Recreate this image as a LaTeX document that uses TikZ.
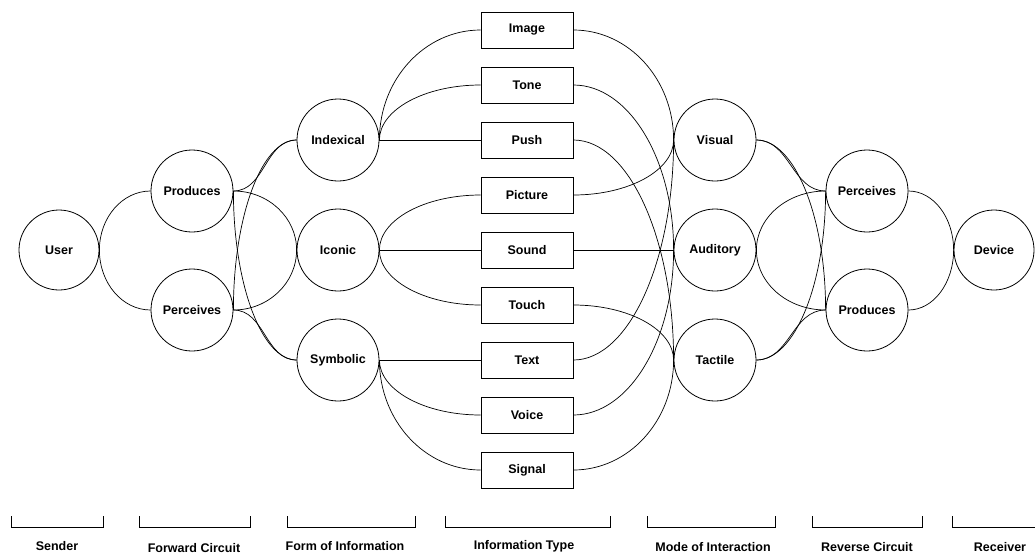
\documentclass[tikz,border=0pt]{standalone}
\usepackage{fontspec}
\setmainfont{Liberation Sans}
\usetikzlibrary{calc}
\tikzset{
  lbl/.style={font=\bfseries\fontsize{12.5}{15}\selectfont},
  circ/.style={lbl, circle, draw, line width=0.8pt, minimum size=82pt, inner sep=0pt},
  endcirc/.style={circ, minimum size=80pt},
  tbox/.style={lbl, rectangle, draw, line width=0.8pt, minimum width=92pt, minimum height=36pt, inner sep=0pt},
  conn/.style={line width=0.7pt},
  brk/.style={line width=0.7pt},
  qhv/.style={to path={.. controls ($(\tikztostart)!0.552!(\tikztostart -| \tikztotarget)$) and ($(\tikztotarget)!0.552!(\tikztostart -| \tikztotarget)$) .. (\tikztotarget)}},
  qvh/.style={to path={.. controls ($(\tikztostart)!0.552!(\tikztostart |- \tikztotarget)$) and ($(\tikztotarget)!0.552!(\tikztostart |- \tikztotarget)$) .. (\tikztotarget)}},
  scurve/.style={out=0, in=180}
}
\begin{document}
\begin{tikzpicture}[x=1pt, y=-1pt]
\useasboundingbox[fill=white] (0,0) rectangle (1035,555);
% nodes
\node[endcirc] (user) at (59,250) {User};
\node[circ] (prodL) at (192,191) {Produces};
\node[circ] (percL) at (192,310) {Perceives};
\node[circ] (indexical) at (338,140) {Indexical};
\node[circ] (iconic) at (338,250) {Iconic};
\node[circ] (symbolic) at (338,360) {Symbolic};
\node[tbox] (image) at (527,30) {Image};
\node[tbox] (tone) at (527,85) {Tone};
\node[tbox] (push) at (527,140) {Push};
\node[tbox] (picture) at (527,195) {Picture};
\node[tbox] (sound) at (527,250) {Sound};
\node[tbox] (touch) at (527,305) {Touch};
\node[tbox] (text) at (527,360) {Text};
\node[tbox] (voice) at (527,415) {Voice};
\node[tbox] (signal) at (527,470) {Signal};
\node[circ] (visual) at (715,140) {Visual};
\node[circ] (auditory) at (715,250) {Auditory};
\node[circ] (tactile) at (715,360) {Tactile};
\node[circ] (percR) at (867,191) {Perceives};
\node[circ] (prodR) at (867,310) {Produces};
\node[endcirc] (device) at (994,250) {Device};
% sender -> forward circuit
\draw[conn] (user.east) to[qvh] (prodL.west);
\draw[conn] (user.east) to[qvh] (percL.west);
% forward circuit -> form of information
\draw[conn] (prodL.east) to[scurve] (indexical.west);
\draw[conn] (prodL.east) to[qhv] (iconic.west);
\draw[conn] (prodL.east) to[qvh] (symbolic.west);
\draw[conn] (percL.east) to[qvh] (indexical.west);
\draw[conn] (percL.east) to[qhv] (iconic.west);
\draw[conn] (percL.east) to[scurve] (symbolic.west);
% form of information -> information type
\draw[conn] (image.west) to[qhv] (indexical.east);
\draw[conn] (tone.west) to[qhv] (indexical.east);
\draw[conn] (push.west) -- (indexical.east);
\draw[conn] (picture.west) to[qhv] (iconic.east);
\draw[conn] (sound.west) -- (iconic.east);
\draw[conn] (touch.west) to[qhv] (iconic.east);
\draw[conn] (text.west) -- (symbolic.east);
\draw[conn] (voice.west) to[qhv] (symbolic.east);
\draw[conn] (signal.west) to[qhv] (symbolic.east);
% information type -> mode of interaction
\draw[conn] (image.east) to[qhv] (visual.west);
\draw[conn] (tone.east) to[qhv] (auditory.west);
\draw[conn] (push.east) to[qhv] (tactile.west);
\draw[conn] (picture.east) to[qhv] (visual.west);
\draw[conn] (sound.east) -- (auditory.west);
\draw[conn] (touch.east) to[qhv] (tactile.west);
\draw[conn] (text.east) to[qhv] (visual.west);
\draw[conn] (voice.east) to[qhv] (auditory.west);
\draw[conn] (signal.east) to[qhv] (tactile.west);
% mode of interaction -> reverse circuit
\draw[conn] (visual.east) to[scurve] (percR.west);
\draw[conn] (visual.east) to[qhv] (prodR.west);
\draw[conn] (auditory.east) to[qvh] (percR.west);
\draw[conn] (auditory.east) to[qvh] (prodR.west);
\draw[conn] (tactile.east) to[qhv] (percR.west);
\draw[conn] (tactile.east) to[scurve] (prodR.west);
% reverse circuit -> receiver
\draw[conn] (percR.east) to[qhv] (device.west);
\draw[conn] (prodR.east) to[qhv] (device.west);
% brackets
\draw[brk] (11,516) |- (103,527) -- (103,516);
\draw[brk] (139,516) |- (250,527) -- (250,516);
\draw[brk] (287,516) |- (415,527) -- (415,516);
\draw[brk] (445,516) |- (610,527) -- (610,516);
\draw[brk] (647,516) |- (775,527) -- (775,516);
\draw[brk] (812,516) |- (922,527) -- (922,516);
\draw[brk] (952,516) |- (1035,527);
% labels
\node[lbl] (lsender) at (57,546) {Sender};
\node[lbl] (lforward) at (194,548) {Forward Circuit};
\node[lbl] (lform) at (345,546) {Form of Information};
\node[lbl] (ltype) at (524,546) {Information Type};
\node[lbl] (lmode) at (713,547) {Mode of Interaction};
\node[lbl] (lreverse) at (867,547) {Reverse Circuit};
\node[lbl] (lreceiver) at (1000,547) {Receiver};
\end{tikzpicture}
\end{document}
